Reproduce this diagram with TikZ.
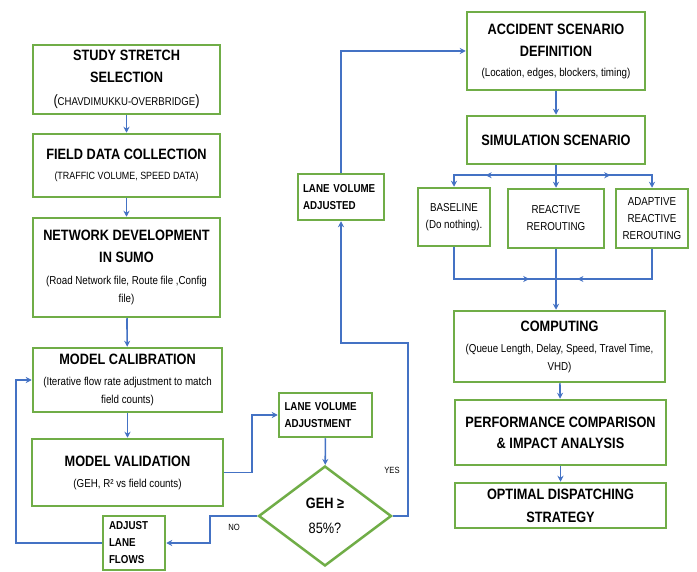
\documentclass[tikz,border=0pt]{standalone}
\usepackage{fontspec}
\setmainfont{Liberation Sans}[FakeStretch=0.85]
\usetikzlibrary{shapes.geometric,positioning,arrows.meta,decorations.markings,calc}
\definecolor{boxgreen}{HTML}{70AD47}
\definecolor{flowblue}{HTML}{4472C4}
\newcommand{\headfont}{\fontsize{15}{22}\selectfont\bfseries}
\newcommand{\subtxt}{\fontsize{11.5}{17}\selectfont\mdseries}
\newcommand{\capstxt}{\fontsize{10.5}{17}\selectfont\mdseries}
\newcommand{\tagfont}{\fontsize{11.5}{17}\selectfont\bfseries}
\newcommand{\optfont}{\fontsize{11.5}{17}\selectfont}

\begin{document}
\begin{tikzpicture}[x=1pt, y=-1pt, node distance = 4em, auto]
    \tikzset{>={Stealth[length=6pt, width=6pt]}}
    \useasboundingbox (0,0) rectangle (697,572);
    % Draw the boxes
    \tikzstyle{stage}  = [rectangle, draw = boxgreen, line width = 2.5pt, fill = white, align = center, inner sep = 2pt, font = \headfont]
    \tikzstyle{tag}    = [rectangle, draw = boxgreen, line width = 2.5pt, fill = white, align = left, inner sep = 2pt, font = \tagfont]
    \tikzstyle{option} = [rectangle, draw = boxgreen, line width = 2.5pt, fill = white, align = center, inner sep = 2pt, font = \optfont]
    \tikzstyle{check}  = [diamond, aspect = 1.3, draw = boxgreen, line width = 2.5pt, fill = white, align = center, inner sep = 0pt, minimum width = 133pt, minimum height = 100pt, font = \fontsize{15}{25}\selectfont]
    \tikzstyle{arrow}  = [flowblue, line width = 1.6pt, ->]
    \tikzstyle{link}   = [flowblue, line width = 1.6pt]
    \tikzset{midarrow/.style = {postaction = {decorate, decoration = {markings, mark = at position #1 with {\arrow{>}}}}}}

    % left column
    \node[stage, minimum width = 187pt, minimum height = 69pt] (study) at (126.5,79.5) {STUDY STRETCH\\SELECTION\\[1pt]{\fontsize{15}{17}\selectfont\mdseries(}{\fontsize{11.3}{17}\selectfont\mdseries CHAVDIMUKKU-OVERBRIDGE}{\fontsize{15}{17}\selectfont\mdseries)}};
    \node[stage, minimum width = 187pt, minimum height = 63pt] (field) at (126.5,165.5) {FIELD DATA COLLECTION\\[-2pt]{\capstxt (TRAFFIC VOLUME, SPEED DATA)}};
    \node[stage, minimum width = 187pt, minimum height = 99pt] (sumo) at (126.5,267.5) {NETWORK DEVELOPMENT\\IN SUMO\\{\subtxt (Road Network file, Route file ,Config}\\[-4pt]{\subtxt file)}};
    \node[stage, minimum width = 189pt, minimum height = 64pt] (calib) at (127.5,380) {MODEL CALIBRATION\\[-1pt]{\subtxt (Iterative flow rate adjustment to match}\\[-4pt]{\subtxt field counts)}};
    \node[stage, minimum width = 191pt, minimum height = 67pt] (valid) at (127.5,472.5) {MODEL VALIDATION\\[-1pt]{\subtxt (GEH, R² vs field counts)}};
    \node[tag, minimum width = 62pt, minimum height = 54pt, text width = 50pt] (adjust) at (134,543) {ADJUST\\LANE\\FLOWS};

    % calibration loop
    \node[tag, minimum width = 93pt, minimum height = 44pt, text width = 82pt] (lvadj) at (325.5,415) {LANE VOLUME\\ADJUSTMENT};
    \node[check] (geh) at (325,516) {\bfseries GEH ≥\\85\%?};
    \node[tag, minimum width = 86pt, minimum height = 46pt, text width = 76pt] (lvdone) at (341,197) {LANE VOLUME\\ADJUSTED};
    \node[font = \fontsize{9}{11}\selectfont] (yes) at (392,470) {YES};
    \node[font = \fontsize{9}{11}\selectfont] (no) at (234,527) {NO};

    % right column
    \node[stage, minimum width = 178pt, minimum height = 78pt] (accident) at (556,51) {ACCIDENT SCENARIO\\DEFINITION\\[-2pt]{\subtxt (Location, edges, blockers, timing)}};
    \node[stage, minimum width = 178pt, minimum height = 48pt] (scenario) at (556,140) {SIMULATION SCENARIO};
    \node[option, minimum width = 72pt, minimum height = 58pt] (base) at (454,217) {BASELINE\\(Do nothing).};
    \node[option, minimum width = 96pt, minimum height = 59pt] (react) at (556,218.5) {REACTIVE\\REROUTING};
    \node[option, minimum width = 72pt, minimum height = 59pt] (adapt) at (652,218.5) {ADAPTIVE\\REACTIVE\\REROUTING};
    \node[stage, minimum width = 211pt, minimum height = 71pt] (compute) at (559.5,346.5) {COMPUTING\\[-1pt]{\subtxt (Queue Length, Delay, Speed, Travel Time,}\\[-4pt]{\subtxt VHD)}};
    \node[stage, minimum width = 211pt, minimum height = 65pt] (compare) at (560.5,432.5) {PERFORMANCE COMPARISON\\[-1pt]\& IMPACT ANALYSIS};
    \node[stage, minimum width = 211pt, minimum height = 45pt] (optimal) at (560.5,505.5) {OPTIMAL DISPATCHING\\[1pt]STRATEGY};

    \draw[arrow] (study) -- (field);
    \draw[arrow] (field) -- (sumo);
    \draw[arrow] (sumo) -- (calib);
    \draw[arrow] (calib) -- (valid);
    \draw[arrow] (valid.east) -- ++(28,0) |- (lvadj.west);
    \draw[arrow] (lvadj) -- (geh);
    \draw[arrow] (geh.west) -- ++(-47,0) |- (adjust.east);
    \draw[arrow] (adjust.west) -- ++(-86,0) |- (calib.west);
    \draw[arrow] (geh.east) -| (408,343) -| (lvdone.south);
    \draw[arrow] (lvdone.north) |- (accident.west);

    \draw[arrow] (accident) -- (scenario);
    \draw[link] (scenario.south) -- ++(0,10) coordinate (split);
    \draw[arrow, midarrow = 0.62] (split) -| (base.north);
    \draw[arrow] (split) -- (react.north);
    \draw[arrow, midarrow = 0.5] (split) -| (adapt.north);
    \coordinate (merge) at (556,279);
    \draw[link, midarrow = 0.8] (base.south) |- (merge);
    \draw[link, midarrow = 0.83] (adapt.south) |- (merge);
    \draw[arrow] (react.south) -- (react.south |- compute.north);
    \draw[arrow] (compute) -- (compare);
    \draw[arrow] (compare) -- (optimal);
  \end{tikzpicture}
\end{document}
